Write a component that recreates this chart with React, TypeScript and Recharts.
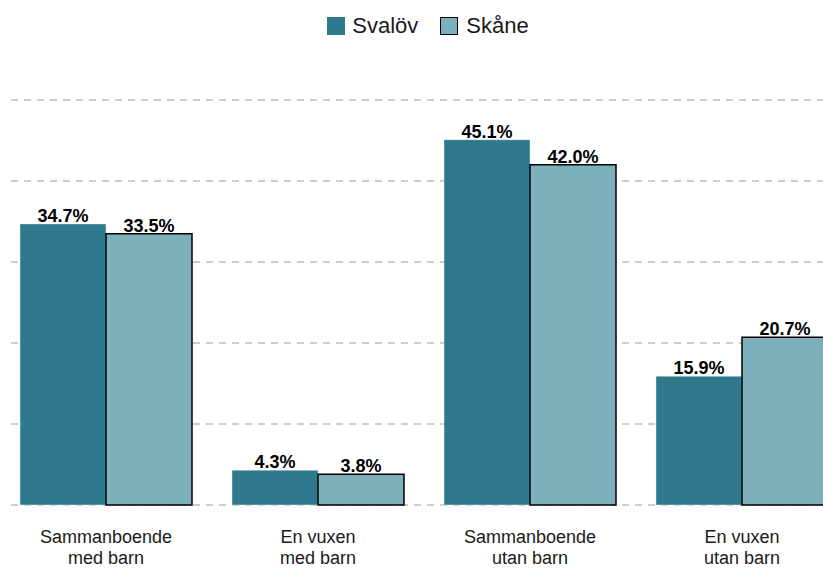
import React from "react";
import {
  BarChart,
  Bar,
  XAxis,
  YAxis,
  CartesianGrid,
  LabelList,
} from "recharts";

const categories = [
  "Sammanboende\nmed barn",
  "En vuxen\nmed barn",
  "Sammanboende\nutan barn",
  "En vuxen\nutan barn",
];
const svalov = [34.7, 4.3, 45.1, 15.9];
const skane = [33.5, 3.8, 42.0, 20.7];
const yTicks = [0, 10, 20, 30, 40, 50];

const DARK = "#2e7a8c";
const LIGHT = "#7eb0bb";
const FONT = "'Liberation Sans', Arial, sans-serif";

const data = categories.map((c, i) => ({
  name: c,
  Svalöv: svalov[i],
  Skåne: skane[i],
}));

const CategoryTick = (props: any) => {
  const { x, y, payload } = props;
  const lines = String(payload.value).split("\n");
  return (
    <text
      x={x}
      y={y}
      textAnchor="middle"
      fontSize={18}
      fontFamily={FONT}
      fill="#1a1a1a"
    >
      {lines.map((l, i) => (
        <tspan key={i} x={x} dy={i === 0 ? 30 : 21}>
          {l}
        </tspan>
      ))}
    </text>
  );
};

const GridLine = (props: any) => (
  <line
    x1={props.x1 + 11}
    y1={props.y1}
    x2={props.x2}
    y2={props.y2}
    stroke="#bdbdbd"
    strokeWidth={1.5}
    strokeDasharray="7 6"
  />
);

// legend drawn over the chart, centred on the full 856px plot width
const LegendBox = () => (
  <div
    style={{
      position: "absolute",
      top: 13,
      left: 0,
      width: 856,
      display: "flex",
      justifyContent: "center",
      alignItems: "center",
      fontFamily: FONT,
      fontSize: 22,
      color: "#1a1a1a",
    }}
  >
    <span
      style={{
        width: 18,
        height: 18,
        background: DARK,
        display: "inline-block",
        marginRight: 7,
      }}
    />
    <span style={{ marginRight: 22 }}>Svalöv</span>
    <span
      style={{
        width: 16,
        height: 16,
        background: LIGHT,
        border: "1.5px solid #000",
        display: "inline-block",
        marginRight: 8,
      }}
    />
    <span>Skåne</span>
  </div>
);

export default function App() {
  return (
    <div
      style={{
        position: "absolute",
        left: 0,
        top: 0,
        width: 823,
        height: 568,
        overflow: "hidden",
        background: "#fff",
        fontFamily: FONT,
      }}
    >
      <BarChart
        width={856}
        height={568}
        data={data}
        margin={{ top: 100, right: 8, bottom: 0, left: 0 }}
        barCategoryGap={20}
        barGap={0}
      >
        <CartesianGrid vertical={false} horizontal={GridLine} />
        <XAxis
          dataKey="name"
          axisLine={false}
          tickLine={false}
          interval={0}
          height={63}
          tick={<CategoryTick />}
        />
        <YAxis hide domain={[0, 50]} ticks={yTicks} />
        <Bar
          dataKey="Svalöv"
          fill={DARK}
          stroke="#ffffff"
          strokeWidth={0.4}
          isAnimationActive={false}
        >
          <LabelList
            dataKey="Svalöv"
            position="top"
            offset={2}
            formatter={(v: any) => `${Number(v).toFixed(1)}%`}
            style={{
              fontSize: 18,
              fontWeight: 700,
              fill: "#000",
              fontFamily: FONT,
            }}
          />
        </Bar>
        <Bar
          dataKey="Skåne"
          fill={LIGHT}
          stroke="#000"
          strokeWidth={1.5}
          isAnimationActive={false}
        >
          <LabelList
            dataKey="Skåne"
            position="top"
            offset={2}
            formatter={(v: any) => `${Number(v).toFixed(1)}%`}
            style={{
              fontSize: 18,
              fontWeight: 700,
              fill: "#000",
              fontFamily: FONT,
            }}
          />
        </Bar>
      </BarChart>
      <LegendBox />
    </div>
  );
}
